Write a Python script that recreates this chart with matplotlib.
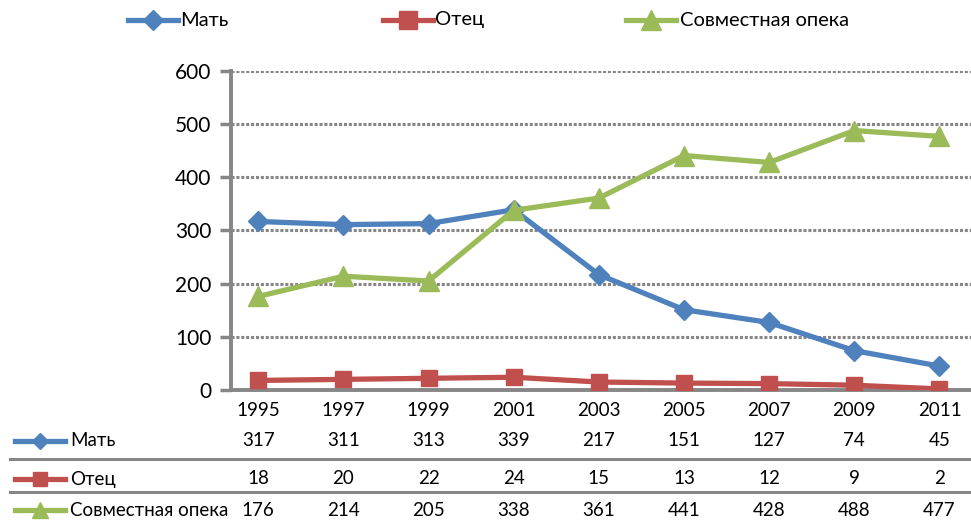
import matplotlib.pyplot as plt
from matplotlib.lines import Line2D
from matplotlib.transforms import blended_transform_factory

plt.rcParams['font.family'] = ['Lato', 'DejaVu Sans']

years = ['1995', '1997', '1999', '2001', '2003', '2005', '2007', '2009', '2011']
mother = [317, 311, 313, 339, 217, 151, 127, 74, 45]
father = [18, 20, 22, 24, 15, 13, 12, 9, 2]
joint = [176, 214, 205, 338, 361, 441, 428, 488, 477]

names = ['Мать', 'Отец', 'Совместная опека']
colors = ['#4F81BD', '#C0504D', '#9BBB59']
markers = ['D', 's', '^']
msizes = [10, 12, 14]
series = [mother, father, joint]

W, H = 971, 521
fig = plt.figure(figsize=(W / 100, H / 100), dpi=100)

def fx(px):
    return px / W

def fy(py):
    return 1 - py / H

ax = fig.add_axes([fx(231), fy(390), 1 - fx(231), fy(71) - fy(390)])
x = list(range(len(years)))
for vals, c, m, ms in zip(series, colors, markers, msizes):
    ax.plot(x, vals, color=c, lw=3.8, marker=m, markersize=ms, zorder=3)

ax.set_xlim(-0.32, 8.37)
ax.set_ylim(0, 600)
ax.set_yticks(range(0, 601, 100))
ax.set_xticks([])
ax.tick_params(axis='y', labelsize=15, length=8, width=2.5, color='#868686', pad=6)
ax.grid(axis='y', color='#868686', ls=(0, (1, 0.6)), lw=2.2)
for s in ['top', 'right']:
    ax.spines[s].set_visible(False)
ax.spines['left'].set_color('#868686')
ax.spines['left'].set_linewidth(2.8)
ax.spines['bottom'].set_color('#868686')
ax.spines['bottom'].set_linewidth(2.8)

def sample(x0, y0, length, c, m, ms):
    # little legend key: line with a marker in the middle
    fig.add_artist(Line2D([fx(x0), fx(x0 + length / 2), fx(x0 + length)], [fy(y0)] * 3,
                          color=c, lw=3.8, marker=m, markersize=ms, markevery=[1],
                          transform=fig.transFigure))

# data table under the axis
tr = blended_transform_factory(ax.transData, fig.transFigure)
for i, yr in enumerate(years):
    ax.text(i, fy(410), yr, transform=tr, ha='center', va='center', fontsize=13.5, clip_on=False)
row_y = [441, 479, 510]
for vals, name, c, m, ms, ry in zip(series, names, colors, markers, msizes, row_y):
    for i, v in enumerate(vals):
        ax.text(i, fy(ry), str(v), transform=tr, ha='center', va='center', fontsize=13.5, clip_on=False)
    sample(15, ry, 50, c, m, ms * 0.8)
    fig.text(fx(70), fy(ry), name, ha='left', va='center', fontsize=13.5)
for sy in [459, 492]:
    fig.add_artist(Line2D([fx(10), 1], [fy(sy), fy(sy)], color='#868686', lw=2.2,
                          transform=fig.transFigure))

# legend on top
leg_items = [(128, 180), (383, 435), (626, 680)]
for (lx, tx), name, c, m, ms in zip(leg_items, names, colors, markers, msizes):
    sample(lx, 20, 50, c, m, ms * 1.05)
    fig.text(fx(tx), fy(20), name, ha='left', va='center', fontsize=14.5)

fig.savefig('out.png', dpi=100)
